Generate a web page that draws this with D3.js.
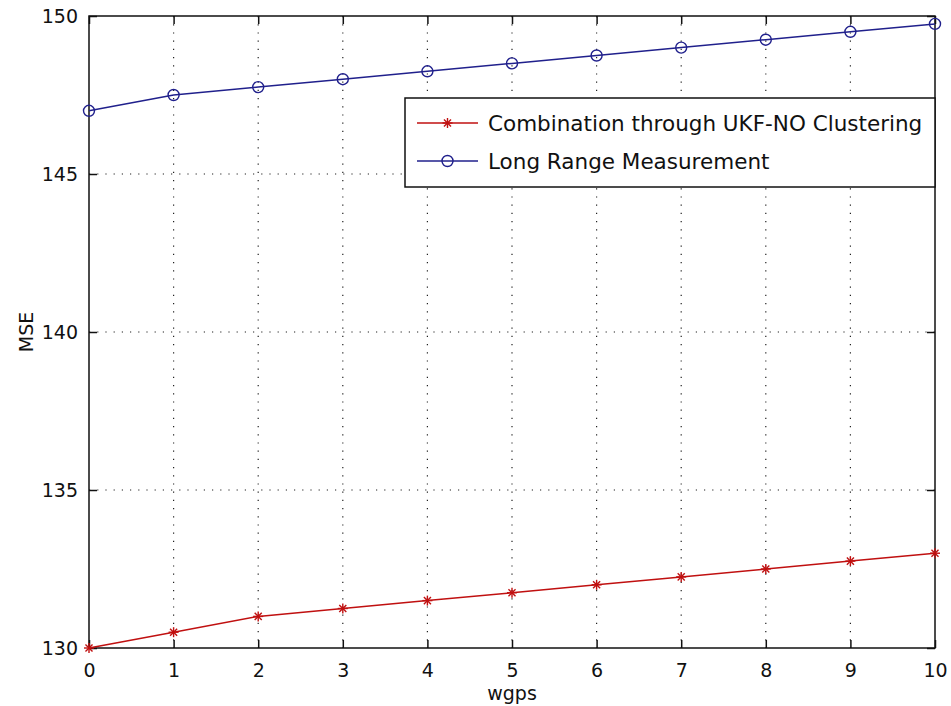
<!DOCTYPE html>
<html>
<head>
<meta charset="utf-8">
<script src="https://cdn.jsdelivr.net/npm/d3@7"></script>
<style>
  html, body { margin: 0; padding: 0; background: #fff; }
  svg { display: block; }
  text { font-family: "DejaVu Sans", Verdana, sans-serif; fill: #111; }
</style>
</head>
<body>
<svg id="chart" width="951" height="706"></svg>
<script>
// x values (wgps) and the two MSE series
const wgps = [0, 1, 2, 3, 4, 5, 6, 7, 8, 9, 10];
const ukfClustering = [130, 130.5, 131, 131.25, 131.5, 131.75, 132, 132.25, 132.5, 132.75, 133];
const longRange = [147, 147.5, 147.75, 148, 148.25, 148.5, 148.75, 149, 149.25, 149.5, 149.75];
const yTicks = [130, 135, 140, 145, 150];
const seriesNames = ["Combination through UKF-NO Clustering", "Long Range Measurement"];

const svg = d3.select("#chart");
const m = { left: 89, right: 935, top: 16, bottom: 648 };

const x = d3.scaleLinear().domain([0, 10]).range([m.left, m.right]);
const y = d3.scaleLinear().domain([130, 150]).range([m.bottom, m.top]);

const red = "#c01010";
const blue = "#20208c";
const fontFamily = "DejaVu Sans, Verdana, sans-serif";

// dotted grid
const grid = svg.append("g");
grid.selectAll(".gx").data(wgps.slice(1, -1)).join("line")
  .attr("x1", d => x(d)).attr("x2", d => x(d))
  .attr("y1", m.top).attr("y2", m.bottom)
  .attr("stroke", "#222").attr("stroke-width", 1.2).attr("stroke-dasharray", "1.2,7");
grid.selectAll(".gy").data(yTicks.slice(1, -1)).join("line")
  .attr("x1", m.left).attr("x2", m.right)
  .attr("y1", d => y(d)).attr("y2", d => y(d))
  .attr("stroke", "#222").attr("stroke-width", 1.2).attr("stroke-dasharray", "1.2,7");

// axes: ticks pointing inward on all four sides
const fontSize = 19;
const xAxisB = d3.axisBottom(x).tickValues(wgps).tickSize(-8).tickPadding(16).tickFormat(d3.format("d"));
const xAxisT = d3.axisTop(x).tickValues(wgps).tickSize(-8).tickFormat("");
const yAxisL = d3.axisLeft(y).tickValues(yTicks).tickSize(-8).tickPadding(11).tickFormat(d3.format("d"));
const yAxisR = d3.axisRight(y).tickValues(yTicks).tickSize(-8).tickFormat("");

function styleAxis(g) {
  g.select(".domain").remove();
  g.selectAll(".tick line").attr("stroke", "#111").attr("stroke-width", 1.5);
  g.selectAll(".tick text").attr("font-size", fontSize).attr("fill", "#111")
    .attr("font-family", fontFamily);
}
svg.append("g").attr("transform", `translate(0,${m.bottom})`).call(xAxisB).call(styleAxis);
svg.append("g").attr("transform", `translate(0,${m.top})`).call(xAxisT).call(styleAxis);
svg.append("g").attr("transform", `translate(${m.left},0)`).call(yAxisL).call(styleAxis);
svg.append("g").attr("transform", `translate(${m.right},0)`).call(yAxisR).call(styleAxis);

// plot frame
svg.append("rect")
  .attr("x", m.left).attr("y", m.top)
  .attr("width", m.right - m.left).attr("height", m.bottom - m.top)
  .attr("fill", "none").attr("stroke", "#111").attr("stroke-width", 1.5);

// axis titles
svg.append("text").attr("x", (m.left + m.right) / 2).attr("y", 700)
  .attr("text-anchor", "middle").attr("font-size", fontSize).text("wgps");
svg.append("text").attr("transform", `translate(33,${(m.top + m.bottom) / 2}) rotate(-90)`)
  .attr("text-anchor", "middle").attr("font-size", fontSize).text("MSE");

// markers
function star(g, cx, cy, r, color) {
  [0, 45, 90, 135].forEach(a => {
    const rad = a * Math.PI / 180;
    g.append("line")
      .attr("x1", cx - r * Math.cos(rad)).attr("y1", cy - r * Math.sin(rad))
      .attr("x2", cx + r * Math.cos(rad)).attr("y2", cy + r * Math.sin(rad))
      .attr("stroke", color).attr("stroke-width", 1.4);
  });
}
function circle(g, cx, cy, r, color) {
  g.append("circle").attr("cx", cx).attr("cy", cy).attr("r", r)
    .attr("fill", "none").attr("stroke", color).attr("stroke-width", 1.4);
}

const line = d3.line().x(d => x(d[0])).y(d => y(d[1]));

const plot = svg.append("g");
const redData = wgps.map((w, i) => [w, ukfClustering[i]]);
const blueData = wgps.map((w, i) => [w, longRange[i]]);

plot.append("path").datum(redData).attr("d", line)
  .attr("fill", "none").attr("stroke", red).attr("stroke-width", 1.5);
redData.forEach(d => star(plot, x(d[0]), y(d[1]), 5, red));

plot.append("path").datum(blueData).attr("d", line)
  .attr("fill", "none").attr("stroke", blue).attr("stroke-width", 1.5);
blueData.forEach(d => circle(plot, x(d[0]), y(d[1]), 5.5, blue));

// legend
const lg = svg.append("g");
const lx0 = 405, ly0 = 98, lx1 = 935, ly1 = 187;
lg.append("rect").attr("x", lx0).attr("y", ly0).attr("width", lx1 - lx0).attr("height", ly1 - ly0)
  .attr("fill", "#fff").attr("stroke", "#111").attr("stroke-width", 1.5);
const rows = [
  { name: seriesNames[0], color: red, type: "star", cy: 123 },
  { name: seriesNames[1], color: blue, type: "circle", cy: 161 }
];
rows.forEach(r => {
  lg.append("line").attr("x1", 417).attr("x2", 478).attr("y1", r.cy).attr("y2", r.cy)
    .attr("stroke", r.color).attr("stroke-width", 1.5);
  if (r.type === "star") star(lg, 447.5, r.cy, 5, r.color);
  else circle(lg, 447.5, r.cy, 5.5, r.color);
  lg.append("text").attr("x", 488).attr("y", r.cy).attr("dy", "0.36em")
    .attr("font-size", 21.5).text(r.name);
});
</script>
</body>
</html>
